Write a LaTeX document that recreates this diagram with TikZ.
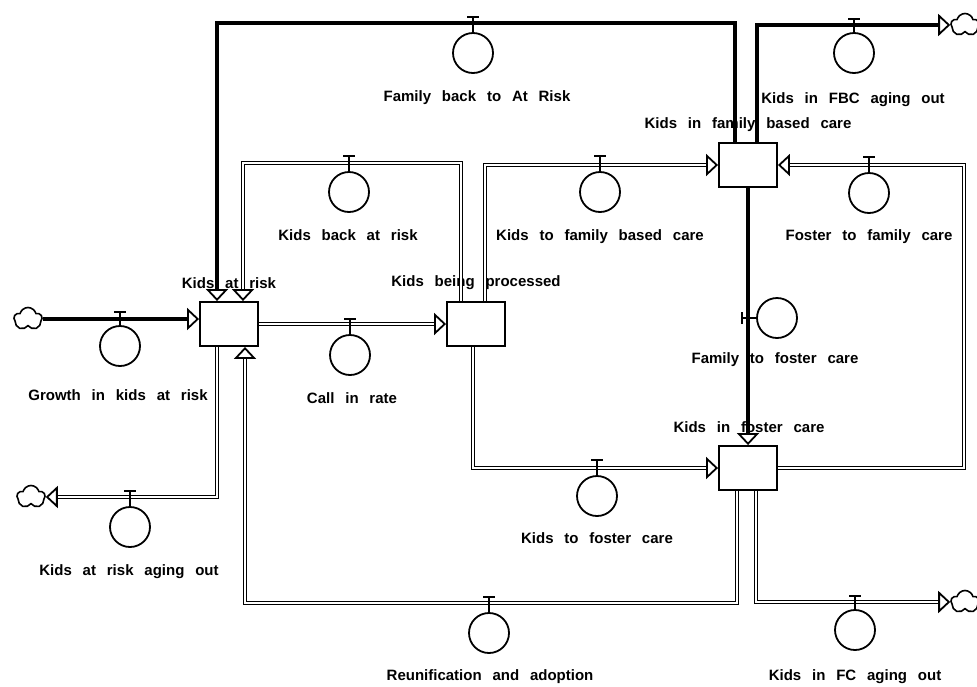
\documentclass[tikz,border=0pt]{standalone}
\usepackage{fontspec}
\setmainfont{Liberation Sans}[WordSpace=2.6]
\usetikzlibrary{arrows.meta,shapes.symbols}

\begin{document}
\begin{tikzpicture}[x=1pt, y=-1pt, line join=miter,
  stock/.style={draw, fill=white, line width=1.9pt, minimum width=58pt, minimum height=44pt, inner sep=0pt},
  valve/.style={circle, draw, fill=white, line width=1.8pt, minimum size=40pt, inner sep=0pt},
  stem/.style={line width=1.9pt},
  flowtip/.tip={Triangle[fill=white, length=12pt, width=22pt, line width=1.8pt]},
  flow/.style={line width=1.8pt, double=white, double distance=1.1pt, -flowtip},
  flowsolid/.style={line width=3.6pt, -flowtip},
  cloudy/.style={cloud, cloud puffs=5, aspect=1.25, draw, fill=white, line width=1.6pt, minimum width=28pt, minimum height=23pt, inner sep=0pt},
  lbl/.style={font=\bfseries\fontsize{15}{18}\selectfont, inner sep=0pt}]

  %% ════ 存量标签（先画，流线压在上面）════
  \node[lbl] (tkar)  at (229,283) {Kids at risk};
  \node[lbl] (tkbp)  at (476,283) {Kids being processed};
  \node[lbl] (tkfbc) at (748,125) {Kids in family based care};
  \node[lbl] (tkfc)  at (749,427) {Kids in foster care};

  %% ════ 存量 ════
  \node[stock] (kar)  at (229,324) {};
  \node[stock] (kbp)  at (476,324) {};
  \node[stock] (kfbc) at (748,165) {};
  \node[stock] (kfc)  at (748,468) {};

  %% ════ 云（源 / 汇）════
  \node[cloudy] (cg)  at (28,319) {};
  \node[cloudy] (cko) at (31,497) {};
  \node[cloudy] (cfb) at (965,25) {};
  \node[cloudy] (cfo) at (965,602) {};

  %% ════ 流线拐点 ════
  \coordinate (p3)  at (473,23);
  \coordinate (p4)  at (349,163);
  \coordinate (p8)  at (489,603);
  \coordinate (p11) at (964,468);

  %% ════ 流线 ════
  \draw[flowsolid] (cg.east) -- (cg.east -| kar.west);
  \draw[flow] ([xshift=-12pt]kar.south) |- (cko.east);
  \draw[flowsolid] ([xshift=-13pt]kfbc.north) |- (p3) -| ([xshift=-12pt]kar.north);
  \draw[flow] ([xshift=-15pt]kbp.north) |- (p4) -| ([xshift=14pt]kar.north);
  \draw[flow] (kar.east) -- (kbp.west);
  \draw[flow] ([xshift=9pt]kbp.north) |- (kfbc.west);
  \draw[flow] ([xshift=-3pt]kbp.south) |- (kfc.west);
  \draw[flow] ([xshift=-11pt]kfc.south) |- (p8) -| ([xshift=16pt]kar.south);
  \draw[flow] ([xshift=8pt]kfc.south) |- (cfo.west);
  \draw[flowsolid] ([xshift=9pt]kfbc.north) |- (cfb.west);
  \draw[flow] (kfc.east) -- (p11) |- (kfbc.east);
  \draw[flowsolid] (kfbc.south) -- (kfc.north);

  %% ════ 阀门 ════
  \node[valve] (vg) at (120,346) {};
  \draw[stem] (vg.north) -- ++(0,-13) ++(-6,0) -- ++(12,0);
  \node[valve] (vko) at (130,527) {};
  \draw[stem] (vko.north) -- ++(0,-15) ++(-6,0) -- ++(12,0);
  \node[valve] (vfb) at (473,53) {};
  \draw[stem] (vfb.north) -- ++(0,-15) ++(-6,0) -- ++(12,0);
  \node[valve] (vkb) at (349,192) {};
  \draw[stem] (vkb.north) -- ++(0,-15) ++(-6,0) -- ++(12,0);
  \node[valve] (vci) at (350,355) {};
  \draw[stem] (vci.north) -- ++(0,-15) ++(-6,0) -- ++(12,0);
  \node[valve] (vtf) at (600,192) {};
  \draw[stem] (vtf.north) -- ++(0,-15) ++(-6,0) -- ++(12,0);
  \node[valve] (vtc) at (597,496) {};
  \draw[stem] (vtc.north) -- ++(0,-15) ++(-6,0) -- ++(12,0);
  \node[valve] (vra) at (489,633) {};
  \draw[stem] (vra.north) -- ++(0,-15) ++(-6,0) -- ++(12,0);
  \node[valve] (vfco) at (855,630) {};
  \draw[stem] (vfco.north) -- ++(0,-13) ++(-6,0) -- ++(12,0);
  \node[valve] (vfbo) at (854,53) {};
  \draw[stem] (vfbo.north) -- ++(0,-13) ++(-6,0) -- ++(12,0);
  \node[valve] (vff) at (869,193) {};
  \draw[stem] (vff.north) -- ++(0,-15) ++(-6,0) -- ++(12,0);
  \node[valve] (vfo) at (777,318) {};
  \draw[stem] (vfo.west) -- ++(-14,0) ++(0,-6) -- ++(0,12);

  %% ════ 阀门标签 ════
  \node[lbl] (lg)   at (118,395) {Growth in kids at risk};
  \node[lbl] (lko)  at (129,572) {Kids at risk aging out};
  \node[lbl] (lfb)  at (477,98)  {Family back to At Risk};
  \node[lbl] (lkb)  at (348,235) {Kids back at risk};
  \node[lbl] (lci)  at (352,398) {Call in rate};
  \node[lbl] (ltf)  at (600,237) {Kids to family based care};
  \node[lbl] (ltc)  at (597,538) {Kids to foster care};
  \node[lbl] (lra)  at (490,677) {Reunification and adoption};
  \node[lbl] (lfco) at (855,677) {Kids in FC aging out};
  \node[lbl] (lfbo) at (853,100) {Kids in FBC aging out};
  \node[lbl] (lff)  at (869,237) {Foster to family care};
  \node[lbl] (lfo)  at (775,360) {Family to foster care};

  % 钉死画布
  \pgfresetboundingbox
  \path[use as bounding box] (0,0) rectangle (977,686);
\end{tikzpicture}
\end{document}
